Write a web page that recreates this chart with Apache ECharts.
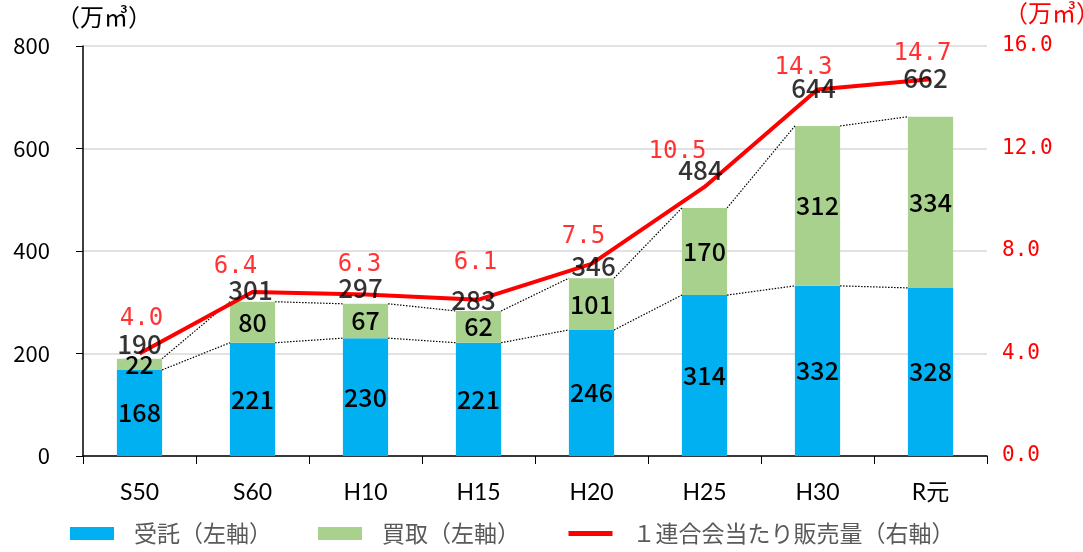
<!DOCTYPE html>
<html>
<head>
<meta charset="utf-8">
<script src="https://cdn.jsdelivr.net/npm/echarts@6/dist/echarts.min.js"></script>
<style>
  html, body { margin: 0; padding: 0; background: #fff; }
  #chart { width: 1083px; height: 552px; }
</style>
</head>
<body>
<div id="chart"></div>
<script>
// data
const categories = ['S50', 'S60', 'H10', 'H15', 'H20', 'H25', 'H30', 'R元'];
const consigned = [168, 221, 230, 221, 246, 314, 332, 328];   // 受託
const purchased = [22, 80, 67, 62, 101, 170, 312, 334];       // 買取
const totalLabels = [190, 301, 297, 283, 346, 484, 644, 662];
const perUnion = [4.0, 6.4, 6.3, 6.1, 7.5, 10.5, 14.3, 14.7]; // 1連合会当たり販売量

// label nudges (px) to mimic the hand placed labels in the original
const totalShift = [[0, -15], [-2, -12], [-5, -16], [-5, -11], [2, -12], [-4, -38], [-4, -38], [-5, -39]];
const redShift = [[2, -35], [-17, -25], [-6, -30], [-3, -37], [-8, -27], [-27, -35], [-14, -22], [-8, -26]];

const stackTop = consigned.map((v, i) => v + purchased[i]);
const numFont = '"Noto Sans CJK JP", "DejaVu Sans", sans-serif';
const monoFont = '"DejaVu Sans Mono", monospace';
const BAR_W = 0.4;

// dotted connectors between neighbouring bar tops
function connectorData(arr) {
  const out = [];
  for (let i = 0; i < arr.length - 1; i++) out.push([i, arr[i], arr[i + 1]]);
  return out;
}
function renderConnector(params, api) {
  const i = api.value(0);
  const a = api.coord([i, api.value(1)]);
  const b = api.coord([i + 1, api.value(2)]);
  const hw = api.size([1, 0])[0] * BAR_W / 2;
  return {
    type: 'line',
    shape: { x1: a[0] + hw, y1: a[1], x2: b[0] - hw, y2: b[1] },
    style: { stroke: '#000', lineWidth: 1.2, lineDash: [1.5, 1.5] },
    silent: true
  };
}

const chart = echarts.init(document.getElementById('chart'));

chart.setOption({
  animation: false,
  grid: { left: 83, right: 96, top: 46, bottom: 96 },
  legend: {
    left: 70,
    top: 522,
    padding: 0,
    itemWidth: 44,
    itemHeight: 13,
    itemGap: 46,
    textStyle: { color: '#595959', fontSize: 23, fontFamily: numFont, padding: [0, 0, 0, 15] },
    data: [
      { name: '受託（左軸）', icon: 'rect' },
      { name: '買取（左軸）', icon: 'rect' },
      { name: '１連合会当たり販売量（右軸）', itemStyle: { opacity: 0 }, lineStyle: { width: 5 } }
    ]
  },
  graphic: [
    { type: 'text', left: 56, top: 5, style: { text: '（万㎥）', fontSize: 24, fontFamily: numFont, fill: '#000' } },
    { type: 'text', left: 1004, top: 1, style: { text: '（万㎥）', fontSize: 24, fontFamily: numFont, fill: '#ff0000' } }
  ],
  xAxis: {
    type: 'category',
    data: categories,
    axisLine: { lineStyle: { color: '#000', width: 1.5 } },
    axisTick: { show: true, length: 8, lineStyle: { color: '#000' } },
    axisLabel: { color: '#000', fontSize: 23, fontFamily: 'Lato, "Noto Sans CJK JP", sans-serif', margin: 25 }
  },
  yAxis: [
    {
      type: 'value',
      min: 0, max: 800, interval: 200,
      axisLine: { show: true, lineStyle: { color: '#000', width: 1.5 } },
      axisTick: { show: true, length: 7, lineStyle: { color: '#000' } },
      splitLine: { lineStyle: { color: '#d9d9d9', width: 1.5 } },
      axisLabel: { color: '#000', fontSize: 22, fontFamily: numFont, margin: 33 }
    },
    {
      type: 'value',
      min: 0, max: 16, interval: 4,
      axisLine: { show: false },
      axisTick: { show: false },
      splitLine: { show: false },
      axisLabel: {
        color: '#ff0000', fontSize: 21, fontFamily: monoFont, margin: 15,
        formatter: v => v.toFixed(1)
      }
    }
  ],
  series: [
    {
      name: '受託（左軸）',
      type: 'bar',
      stack: 'vol',
      barWidth: (BAR_W * 100) + '%',
      itemStyle: { color: '#00b0f0' },
      label: { show: true, position: 'inside', color: '#000', fontSize: 25, fontWeight: 500, fontFamily: numFont },
      data: consigned
    },
    {
      name: '買取（左軸）',
      type: 'bar',
      stack: 'vol',
      itemStyle: { color: '#a9d18e' },
      label: { show: true, position: 'inside', color: '#000', fontSize: 25, fontWeight: 500, fontFamily: numFont },
      data: purchased
    },
    {
      name: 'blueLink',
      type: 'custom',
      renderItem: renderConnector,
      encode: { x: 0, y: [1, 2] },
      data: connectorData(consigned),
      z: 3
    },
    {
      name: 'topLink',
      type: 'custom',
      renderItem: renderConnector,
      encode: { x: 0, y: [1, 2] },
      data: connectorData(stackTop),
      z: 3
    },
    {
      name: '１連合会当たり販売量（右軸）',
      type: 'line',
      yAxisIndex: 1,
      symbol: 'none',
      lineStyle: { color: '#ff0000', width: 4 },
      itemStyle: { color: '#ff0000' },
      data: perUnion,
      z: 4
    },
    {
      name: 'totals',
      type: 'scatter',
      symbolSize: 1,
      itemStyle: { color: 'rgba(0,0,0,0)' },
      label: {
        show: true, position: 'inside', color: '#000', fontSize: 26, fontWeight: 500, fontFamily: numFont,
        formatter: p => totalLabels[p.dataIndex]
      },
      data: stackTop.map((v, i) => ({ value: v, label: { offset: totalShift[i] } })),
      z: 6
    },
    {
      name: 'redLabels',
      type: 'scatter',
      yAxisIndex: 1,
      symbolSize: 1,
      itemStyle: { color: 'rgba(0,0,0,0)' },
      label: {
        show: true, position: 'inside', color: '#ff0000', fontSize: 24, fontFamily: monoFont,
        formatter: p => perUnion[p.dataIndex].toFixed(1)
      },
      data: perUnion.map((v, i) => ({ value: v, label: { offset: redShift[i] } })),
      z: 6
    }
  ]
});
</script>
</body>
</html>
